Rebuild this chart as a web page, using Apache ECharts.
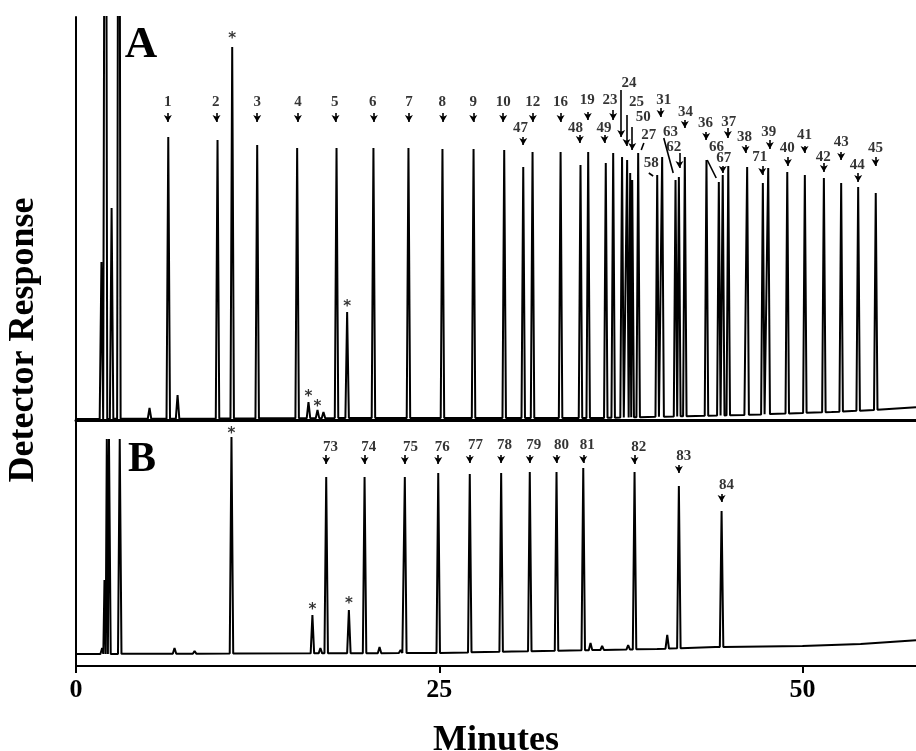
<!DOCTYPE html>
<html><head><meta charset="utf-8">
<script src="https://cdn.jsdelivr.net/npm/echarts@6/dist/echarts.min.js"></script>
<style>html,body{margin:0;padding:0;background:#fff}#c{width:916px;height:751px}</style>
</head><body><div id="c"></div><script>
// ---------- Panel A : peak retention times (min) and apex responses ----------
const peakTimesA = [1.75,2.03,2.45,2.95,5.06,6.35,6.99,9.74,10.75,12.47,15.22,16.00,16.62,17.03,17.93,18.66,
  20.47,22.88,25.22,27.36,29.47,30.78,31.42,33.35,34.72,35.25,36.46,36.97,37.58,37.93,38.14,38.28,38.69,
  40.00,40.34,41.26,41.49,41.90,43.39,44.24,44.51,44.89,46.19,47.27,47.64,48.95,50.16,51.47,52.66,53.83,55.04];
const peakHeightsA = [158,999,212,999,12,283,25,280,373,275,272,18,10,8,272,108,
  272,272,271,271,270,253,268,268,255,268,257,267,263,260,247,240,267,
  245,263,240,243,263,260,238,245,254,253,237,252,248,245,242,237,233,227];
const baselineA = [[0,1],[20,2],[36,2],[46,5],[52,8],[55,10],[58,13]];

// ---------- Panel B ----------
const peakTimesB = [1.80,1.96,2.12,2.27,3.01,6.78,8.16,10.70,16.27,16.82,17.22,18.78,19.86,20.89,22.34,22.63,
  24.93,27.10,29.26,31.23,33.07,34.91,35.41,36.21,38.00,38.44,40.69,41.49,44.43];
const peakHeightsB = [18,86,227,227,227,18,15,229,51,18,189,56,189,19,16,189,
  193,192,193,194,194,198,23,20,21,194,31,180,155];
const baselineB = [[0,12],[25,13],[30,14.5],[40,17],[44,19],[50,20],[54,22],[58,26]];

// ---------- Axis ticks ----------
const xTicks = [0, 25, 50];

// ---------- Peak labels (names) ----------
const labelsA = ['1','2','3','4','5','6','7','8','9','10','12','16','19','23','47','48','49','24','25','50','27','58',
  '31','63','62','34','36','37','66','67','38','39','71','40','41','42','43','44','45'];
const labelsB = ['73','74','75','76','77','78','79','80','81','82','83','84'];
const asteriskA = [[10.75,385],[16.00,27],[16.62,17],[18.66,117]];
const asteriskB = [[10.70,236],[16.27,60],[18.78,66]];

// ---------- Annotation layout (label centre; arrow from/to; 1 = arrow head) ----------
const labelPosA = [[6.32,318],[9.62,318],[12.47,318],[15.27,318],[17.81,318],[20.43,318],[22.91,318],[25.20,318],
  [27.34,318],[29.40,318],[31.44,318],[33.35,318],[35.18,320],[36.75,320],[30.59,292],[34.38,292],[36.33,292],
  [38.05,337],[38.58,318],[39.04,303],[39.42,285],[39.59,257],[40.45,320],[40.92,288],[41.14,273],[41.95,308],
  [43.32,297],[44.93,298],[44.08,273],[44.58,262],[46.01,283],[47.68,288],[47.06,263],[48.95,272],[50.14,285],
  [51.42,263],[52.66,278],[53.77,255],[55.02,272]];
const arrowPosA = [[6.32,307,6.32,298,1],[9.67,307,9.67,298,1],[12.47,307,12.47,298,1],[15.27,307,15.27,298,1],
  [17.86,307,17.86,298,1],[20.50,307,20.50,298,1],[22.91,307,22.91,298,1],[25.27,307,25.27,298,1],
  [27.34,307,27.34,298,1],[29.40,307,29.40,298,1],[31.44,307,31.44,298,1],[33.35,307,33.35,298,1],
  [35.22,308,35.22,300,1],[36.97,310,36.97,300,1],[30.78,283,30.78,275,1],[34.67,285,34.67,277,1],
  [36.37,285,36.37,277,1],[37.52,330,37.52,283,1],[37.89,305,37.89,274,1],[38.28,293,38.28,270,1],
  [39.08,277,38.90,270,0],[39.42,247,39.72,244,0],[40.23,312,40.23,303,1],[40.45,282,41.10,247,0],
  [41.53,267,41.53,252,1],[41.90,300,41.90,292,1],[43.37,288,43.37,280,1],[44.86,292,44.86,282,1],
  [43.44,260,44.06,242,0],[44.51,254,44.51,247,1],[46.08,275,46.08,267,1],[47.75,280,47.75,271,1],
  [47.23,254,47.23,245,1],[48.99,263,48.99,254,1],[50.14,274,50.14,267,1],[51.47,257,51.47,248,1],
  [52.66,268,52.66,260,1],[53.83,247,53.83,238,1],[55.02,263,55.02,254,1]];
const labelPosB = [[17.52,219],[20.15,219],[23.02,219],[25.20,219],[27.49,221],[29.49,221],[31.51,221],
  [33.41,221],[35.18,221],[38.73,219],[41.83,210],[44.77,181]];
const arrowPosB = [[17.22,211,17.22,202,1],[19.86,211,19.86,202,1],[22.63,211,22.63,202,1],[24.93,211,24.93,202,1],
  [27.10,211,27.10,203,1],[29.26,211,29.26,203,1],[31.23,211,31.23,203,1],[33.07,211,33.07,203,1],
  [34.91,211,34.91,203,1],[38.44,211,38.44,202,1],[41.49,201,41.49,193,1],[44.43,172,44.43,164,1]];

const XMAX = 57.81;
const HALFW = 0.12;

function baseAt(knots, t) {
  if (t <= knots[0][0]) return knots[0][1];
  for (let i = 1; i < knots.length; i++) {
    if (t <= knots[i][0]) {
      const [t0, v0] = knots[i-1], [t1, v1] = knots[i];
      return v0 + (v1 - v0) * (t - t0) / (t1 - t0);
    }
  }
  return knots[knots.length-1][1];
}
function trace(times, heights, knots) {
  const pts = [];
  const n = times.length;
  for (let i = 0; i < n; i++) {
    const t = times[i];
    const lf = i > 0 ? Math.max(t - HALFW, (times[i-1] + t) / 2) : t - HALFW;
    const rf = i < n-1 ? Math.min(t + HALFW, (t + times[i+1]) / 2) : t + HALFW;
    pts.push([lf, baseAt(knots, lf)], [t, heights[i]], [rf, baseAt(knots, rf)]);
  }
  knots.forEach(k => {
    const inside = times.some(t => Math.abs(t - k[0]) < HALFW + 0.01);
    if (!inside && k[0] < XMAX) pts.push([k[0], k[1]]);
  });
  pts.push([XMAX, baseAt(knots, XMAX)]);
  pts.sort((a, b) => a[0] - b[0]);
  return pts;
}

const FONT = 'Liberation Serif';
const labelStyle = {show: true, position: 'inside', color: '#000', fontFamily: FONT, fontWeight: 'bold', fontSize: 15,
  formatter: p => p.value[2]};
function labelSeries(names, pos, arrows, idx) {
  return {
    type: 'scatter', xAxisIndex: idx, yAxisIndex: idx, symbolSize: 0, silent: true, animation: false,
    data: names.map((n, i) => [pos[i][0], pos[i][1], n]),
    label: labelStyle, itemStyle: {color: 'rgba(0,0,0,0)'},
    markLine: {
      silent: true, animation: false, symbol: ['none', 'arrow'], symbolSize: [6, 7], precision: 4,
      label: {show: false}, lineStyle: {color: '#000', width: 1.6, type: 'solid'},
      data: arrows.map(a => [{coord: [a[0], a[1]], symbol: 'none'}, {coord: [a[2], a[3]], symbol: a[4] ? 'arrow' : 'none'}])
    }
  };
}
function starSeries(pos, idx) {
  return {
    type: 'scatter', xAxisIndex: idx, yAxisIndex: idx, symbolSize: 0, silent: true, animation: false,
    data: pos.map(p => [p[0], p[1], '*']), itemStyle: {color: 'rgba(0,0,0,0)'},
    label: {show: true, position: 'inside', color: '#000', fontFamily: 'DejaVu Sans', fontWeight: 'bold', fontSize: 15,
      offset: [0, 4], formatter: p => p.value[2]}
  };
}

const chart = echarts.init(document.getElementById('c'), null, {renderer: 'canvas'});
chart.setOption({
  backgroundColor: '#fff',
  animation: false,
  grid: [
    {left: 76, right: 0, top: 17, height: 403, containLabel: false, outerBoundsMode: 'none'},
    {left: 76, right: 0, top: 420, height: 246, containLabel: false, outerBoundsMode: 'none'}
  ],
  xAxis: [
    {gridIndex: 0, type: 'value', min: 0, max: XMAX, position: 'top',
      axisLine: {show: true, lineStyle: {color: '#000', width: 3}}, axisTick: {show: false},
      axisLabel: {show: false}, splitLine: {show: false}},
    {gridIndex: 1, type: 'value', min: 0, max: XMAX, interval: 25,
      axisLine: {show: true, lineStyle: {color: '#000', width: 2}},
      axisTick: {show: true, length: 7, lineStyle: {color: '#000', width: 2}, customValues: xTicks},
      axisLabel: {color: '#000', fontFamily: FONT, fontWeight: 'bold', fontSize: 26, margin: 11,
        customValues: xTicks, showMaxLabel: true, hideOverlap: false},
      splitLine: {show: false},
      name: 'Minutes', nameLocation: 'middle', nameGap: 57,
      nameTextStyle: {color: '#000', fontFamily: FONT, fontWeight: 'bold', fontSize: 36}}
  ],
  yAxis: [
    {gridIndex: 0, type: 'value', min: 0, max: 403, axisLine: {show: true, lineStyle: {color: '#000', width: 2}},
      axisTick: {show: false}, axisLabel: {show: false}, splitLine: {show: false}},
    {gridIndex: 1, type: 'value', min: 0, max: 246, axisLine: {show: true, lineStyle: {color: '#000', width: 2}},
      axisTick: {show: false}, axisLabel: {show: false}, splitLine: {show: false}}
  ],
  series: [
    {type: 'line', xAxisIndex: 0, yAxisIndex: 0, data: trace(peakTimesA, peakHeightsA, baselineA), symbol: 'none',
      clip: true, silent: true, lineStyle: {color: '#000', width: 2}},
    {type: 'line', xAxisIndex: 1, yAxisIndex: 1, data: trace(peakTimesB, peakHeightsB, baselineB), symbol: 'none',
      clip: true, silent: true, lineStyle: {color: '#000', width: 2}},
    labelSeries(labelsA, labelPosA, arrowPosA, 0),
    labelSeries(labelsB, labelPosB, arrowPosB, 1),
    starSeries(asteriskA, 0),
    starSeries(asteriskB, 1)
  ],
  graphic: [
    {type: 'text', x: 141, y: 45, silent: true,
      style: {text: 'A', fill: '#000', font: 'bold 45px "Liberation Serif"', align: 'center', verticalAlign: 'middle',
        textAlign: 'center', textVerticalAlign: 'middle'}},
    {type: 'text', x: 142, y: 460, silent: true,
      style: {text: 'B', fill: '#000', font: 'bold 42px "Liberation Serif"', align: 'center', verticalAlign: 'middle',
        textAlign: 'center', textVerticalAlign: 'middle'}},
    {type: 'text', x: 24, y: 340, rotation: Math.PI / 2, silent: true,
      style: {text: 'Detector Response', fill: '#000', font: 'bold 36px "Liberation Serif"', align: 'center',
        verticalAlign: 'middle', textAlign: 'center', textVerticalAlign: 'middle'}}
  ]
});
</script></body></html>
